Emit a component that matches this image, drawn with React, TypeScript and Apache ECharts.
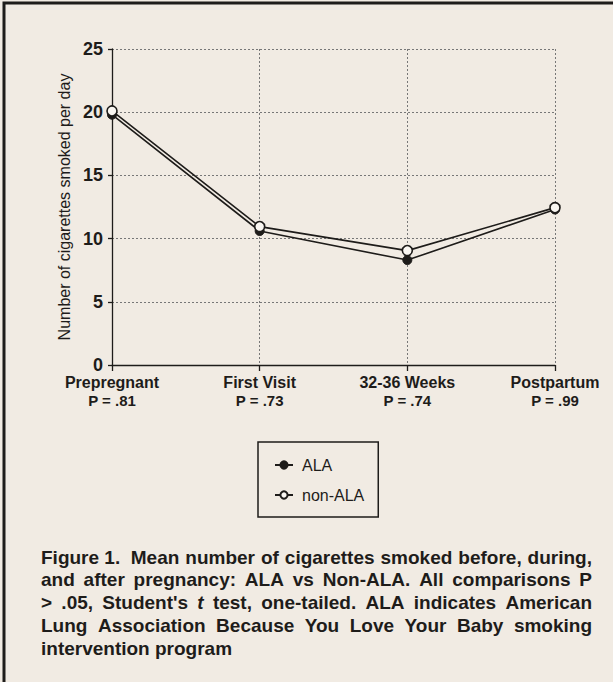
import React, { useEffect, useRef } from "react";
import * as echarts from "echarts";

const categories = ["Prepregnant", "First Visit", "32-36 Weeks", "Postpartum"];
const pValues = ["P = .81", "P = .73", "P = .74", "P = .99"];
const alaValues = [19.8, 10.6, 8.3, 12.3];
const nonAlaValues = [20.1, 10.95, 9.05, 12.45];
const yTicks = [0, 5, 10, 15, 20, 25];
// "_" prefix marks an italic word
const captionLines = [
  "Figure 1.  Mean number of cigarettes smoked before, during,",
  "and after pregnancy: ALA vs Non-ALA. All comparisons P",
  "> .05, Student's _t test, one-tailed. ALA indicates American",
  "Lung Association Because You Love Your Baby smoking",
  "intervention program",
];

const INK = "#1e1c1a";
const PAPER = "#f1ebe3";
const FONT = "'Liberation Sans', Arial, sans-serif";
const CAP_SIZE = 19;

function measure(ctx: CanvasRenderingContext2D, text: string, italic: boolean) {
  ctx.font = `${italic ? "italic " : ""}bold ${CAP_SIZE}px 'Liberation Sans', Arial, sans-serif`;
  return ctx.measureText(text).width;
}

function buildCaption(left: number, right: number, top: number, step: number) {
  const canvas = document.createElement("canvas");
  const ctx = canvas.getContext("2d") as CanvasRenderingContext2D;
  const els: any[] = [];
  captionLines.forEach((line, li) => {
    const y = top + li * step;
    const justify = li < captionLines.length - 1;
    if (!justify) {
      els.push({
        type: "text",
        x: left,
        y,
        style: { text: line, fontFamily: FONT, fontWeight: "bold", fontSize: CAP_SIZE, fill: INK, verticalAlign: "middle" },
      });
      return;
    }
    const raw = line.replace("Figure 1.  ", "Figure\u00a01.\u00a0\u00a0").split(" ");
    const words = raw.map((w) => ({ text: w.startsWith("_") ? w.slice(1) : w, italic: w.startsWith("_") }));
    const widths = words.map((w) => measure(ctx, w.text, w.italic));
    const total = widths.reduce((a, b) => a + b, 0);
    const gap = (right - left - total) / (words.length - 1);
    let x = left;
    words.forEach((w, wi) => {
      els.push({
        type: "text",
        x,
        y,
        style: {
          text: w.text,
          fontFamily: FONT,
          fontWeight: "bold",
          fontStyle: w.italic ? "italic" : "normal",
          fontSize: CAP_SIZE,
          fill: INK,
          verticalAlign: "middle",
        },
      });
      x += widths[wi] + gap;
    });
  });
  return els;
}

export default function App() {
  const ref = useRef<HTMLDivElement>(null);
  useEffect(() => {
    if (!ref.current) return;
    const chart = echarts.init(ref.current, undefined, { renderer: "svg" });
    chart.setOption({
      animation: false,
      backgroundColor: PAPER,
      textStyle: { fontFamily: FONT, color: INK },
      grid: { left: 112, right: 58, top: 49, bottom: 317, containLabel: false },
      xAxis: {
        type: "category",
        data: categories,
        boundaryGap: false,
        axisLine: { lineStyle: { color: INK, width: 1.3 } },
        axisTick: { show: true, alignWithLabel: true, length: 6, lineStyle: { color: INK, width: 1.3 } },
        axisLabel: {
          margin: 8,
          interval: 0,
          formatter: (v: string, i: number) => `{b|${v}}\n{p|${pValues[i]}}`,
          rich: {
            b: { fontFamily: FONT, fontWeight: "bold", fontSize: 16, color: INK, lineHeight: 18 },
            p: { fontFamily: FONT, fontWeight: "bold", fontSize: 15, color: INK, lineHeight: 18 },
          },
        },
        splitLine: { show: true, lineStyle: { type: [2, 2], color: "#777", width: 1 } },
      },
      yAxis: {
        type: "value",
        min: 0,
        max: 25,
        interval: 5,
        name: "Number of cigarettes smoked per day",
        nameLocation: "middle",
        nameGap: 40,
        nameTextStyle: { fontFamily: FONT, fontSize: 16, color: INK },
        axisLine: { show: true, lineStyle: { color: INK, width: 1.3 } },
        axisTick: { show: true, length: 4, lineStyle: { color: INK, width: 1.3 } },
        axisLabel: {
          margin: 9,
          fontFamily: FONT,
          fontWeight: "bold",
          fontSize: 18,
          color: INK,
          formatter: (v: number) => (yTicks.includes(v) ? String(v) : ""),
        },
        splitLine: { show: true, lineStyle: { type: [2, 2], color: "#777", width: 1 } },
      },
      legend: {
        orient: "vertical",
        left: 258,
        top: 442,
        width: 80,
        padding: [15, 14, 14, 16],
        itemGap: 14,
        itemWidth: 18,
        itemHeight: 9,
        borderColor: INK,
        borderWidth: 1.5,
        backgroundColor: "transparent",
        textStyle: { fontFamily: FONT, fontSize: 16, color: INK, padding: [0, 0, 0, 4] },
        data: ["ALA", "non-ALA"],
      },
      series: [
        {
          name: "ALA",
          type: "line",
          data: alaValues,
          symbol: "circle",
          symbolSize: 9,
          lineStyle: { color: INK, width: 1.6 },
          itemStyle: { color: INK, borderColor: INK, borderWidth: 1 },
          z: 3,
        },
        {
          name: "non-ALA",
          type: "line",
          data: nonAlaValues,
          symbol: "circle",
          symbolSize: 10,
          lineStyle: { color: INK, width: 1.6 },
          itemStyle: { color: "#faf7f2", borderColor: INK, borderWidth: 1.6 },
          z: 4,
        },
      ],
      graphic: [
        {
          type: "rect",
          shape: { x: 4, y: 3, width: 700, height: 800 },
          style: { fill: "none", stroke: INK, lineWidth: 3 },
          silent: true,
        },
        ...buildCaption(41, 592, 557, 22.8),
      ],
    });
    return () => chart.dispose();
  }, []);
  return (
    <div
      ref={ref}
      style={{ position: "fixed", left: 0, top: 0, width: 613, height: 682 }}
    />
  );
}
